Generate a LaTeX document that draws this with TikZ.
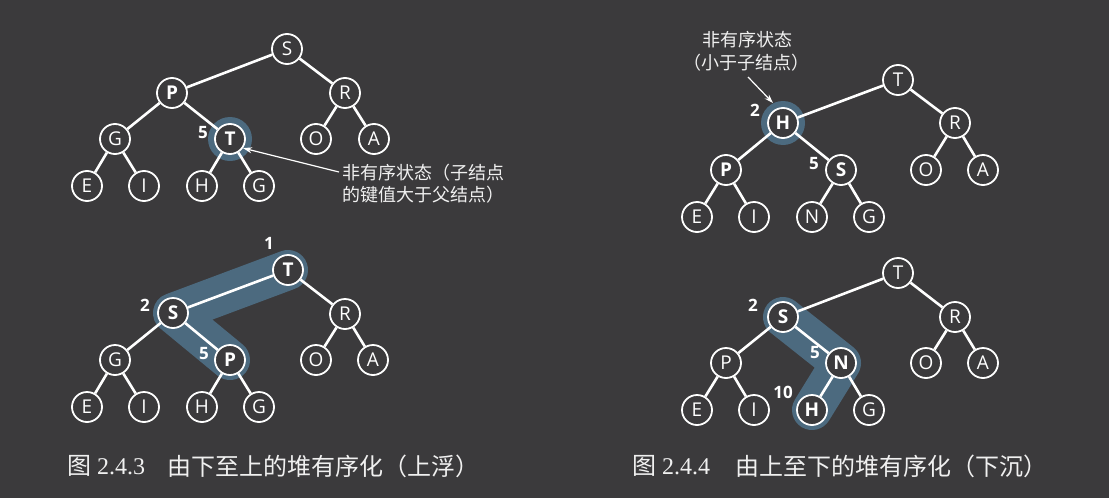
\documentclass[tikz,border=0pt]{standalone}
\usepackage{fontspec}
\setmainfont{Liberation Serif}
\newfontfamily\cjk{Noto Sans CJK SC}
\newfontfamily\nodefont{Open Sans}
\usetikzlibrary{arrows.meta}
\definecolor{bg}{HTML}{3B3A3C}
\definecolor{hlc}{HTML}{4C6A7F}
\definecolor{txt}{HTML}{F0F0F0}
\pgfdeclarelayer{base}
\pgfdeclarelayer{back}
\pgfsetlayers{base,back,main}
\tikzset{
  nd/.style={circle, draw=white, line width=1.8pt, fill=bg, minimum size=30pt, inner sep=0pt, text=white, font=\nodefont\fontsize{19}{19}\selectfont},
  bnd/.style={nd, font=\nodefont\bfseries\fontsize{19}{19}\selectfont},
  edge/.style={draw=white, line width=2.6pt},
  num/.style={text=white, inner sep=0pt, font=\nodefont\bfseries\fontsize{17}{17}\selectfont},
  hlband/.style={draw=hlc, line width=40pt, line cap=round, line join=round},
  hlring/.style={fill=hlc},
  note/.style={text=txt, inner sep=0pt, font=\cjk\fontsize{18}{22}\selectfont},
  arr/.style={draw=white, line width=1.2pt, -{Stealth[length=9pt,width=6pt]}},
  captext/.style={text=txt, inner sep=0pt, anchor=west, font=\fontsize{24}{24}\selectfont},
}
\begin{document}
\begin{tikzpicture}[x=1pt,y=-1pt]
\begin{pgfonlayer}{base}
\fill[bg] (0,0) rectangle (1109,498);
\end{pgfonlayer}
\useasboundingbox (0,0) rectangle (1109,498);

% ---------- Top-left tree ----------
\node[nd]  (a1) at (287,49) {S};
\node[bnd] (a2) at (172,93) {P};
\node[nd]  (a3) at (345,93) {R};
\node[nd]  (a4) at (115,139) {G};
\node[bnd] (a5) at (230,139) {T};
\node[nd]  (a6) at (316,139) {O};
\node[nd]  (a7) at (374,139) {A};
\node[nd]  (a8) at (87,186) {E};
\node[nd]  (a9) at (144,186) {I};
\node[nd]  (a10) at (202,186) {H};
\node[nd]  (a11) at (259,186) {G};
\begin{pgfonlayer}{back}
\fill[hlring] (a5.center) circle (22pt);
\end{pgfonlayer}
\draw[edge] (a1)--(a2) (a1)--(a3) (a2)--(a4) (a2)--(a5) (a3)--(a6) (a3)--(a7)
  (a4)--(a8) (a4)--(a9) (a5)--(a10) (a5)--(a11);
\node[num] (an5) at (203,133) {5};
\node[note, anchor=west] (anote) at (342,173) {非有序状态（子结点};
\node[note, anchor=west] (anote2) at (342,195) {的键值大于父结点）};
\coordinate (aarr) at (339,172);
\draw[arr] (aarr) -- (a5.-35);

% ---------- Bottom-left tree ----------
\node[bnd] (b1) at (288,270) {T};
\node[bnd] (b2) at (173,313) {S};
\node[nd]  (b3) at (345,314) {R};
\node[nd]  (b4) at (115,360) {G};
\node[bnd] (b5) at (230,360) {P};
\node[nd]  (b6) at (316,360) {O};
\node[nd]  (b7) at (373,360) {A};
\node[nd]  (b8) at (87,407) {E};
\node[nd]  (b9) at (144,407) {I};
\node[nd]  (b10) at (202,407) {H};
\node[nd]  (b11) at (259,407) {G};
\begin{pgfonlayer}{back}
\draw[hlband] (b1.center)--(b2.center)--(b5.center);
\end{pgfonlayer}
\draw[edge] (b1)--(b2) (b1)--(b3) (b2)--(b4) (b2)--(b5) (b3)--(b6) (b3)--(b7)
  (b4)--(b8) (b4)--(b9) (b5)--(b10) (b5)--(b11);
\node[num] (bn1) at (269,243) {1};
\node[num] (bn2) at (145,305) {2};
\node[num] (bn5) at (204,354) {5};

% ---------- Top-right tree ----------
\node[nd]  (c1) at (898,80) {T};
\node[bnd] (c2) at (783,123) {H};
\node[nd]  (c3) at (955,123) {R};
\node[bnd] (c4) at (726,170) {P};
\node[bnd] (c5) at (841,170) {S};
\node[nd]  (c6) at (926,170) {O};
\node[nd]  (c7) at (983,170) {A};
\node[nd]  (c8) at (697,217) {E};
\node[nd]  (c9) at (754,217) {I};
\node[nd]  (c10) at (812,217) {N};
\node[nd]  (c11) at (869,217) {G};
\begin{pgfonlayer}{back}
\fill[hlring] (c2.center) circle (22pt);
\end{pgfonlayer}
\draw[edge] (c1)--(c2) (c1)--(c3) (c2)--(c4) (c2)--(c5) (c3)--(c6) (c3)--(c7)
  (c4)--(c8) (c4)--(c9) (c5)--(c10) (c5)--(c11);
\node[num] (cn2) at (755,110) {2};
\node[num] (cn5) at (814,164) {5};
\node[note] (cnote) at (747,40) {非有序状态};
\node[note] (cnote2) at (746,63) {（小于子结点）};
\coordinate (carr) at (748,77);
\draw[arr] (carr) -- (773,103);

% ---------- Bottom-right tree ----------
\node[nd]  (d1) at (898,273) {T};
\node[bnd] (d2) at (783,317) {S};
\node[nd]  (d3) at (955,317) {R};
\node[nd]  (d4) at (726,363) {P};
\node[bnd] (d5) at (841,363) {N};
\node[nd]  (d6) at (926,363) {O};
\node[nd]  (d7) at (983,363) {A};
\node[nd]  (d8) at (697,410) {E};
\node[nd]  (d9) at (754,410) {I};
\node[bnd] (d10) at (812,410) {H};
\node[nd]  (d11) at (869,410) {G};
\begin{pgfonlayer}{back}
\draw[hlband] (d2.center)--(d5.center)--(d10.center);
\end{pgfonlayer}
\draw[edge] (d1)--(d2) (d1)--(d3) (d2)--(d4) (d2)--(d5) (d3)--(d6) (d3)--(d7)
  (d4)--(d8) (d4)--(d9) (d5)--(d10) (d5)--(d11);
\node[num] (dn2) at (753,305) {2};
\node[num] (dn5) at (815,353) {5};
\node[num] (dn10) at (783,392) {10};

% ---------- Captions ----------
\node[captext] (cap1a) at (67,466) {{\cjk 图} 2.4.3};
\node[captext] (cap1b) at (167,466) {\cjk 由下至上的堆有序化（上浮）};
\node[captext] (cap2a) at (632,466) {{\cjk 图} 2.4.4};
\node[captext] (cap2b) at (735,466) {\cjk 由上至下的堆有序化（下沉）};
\end{tikzpicture}
\end{document}
